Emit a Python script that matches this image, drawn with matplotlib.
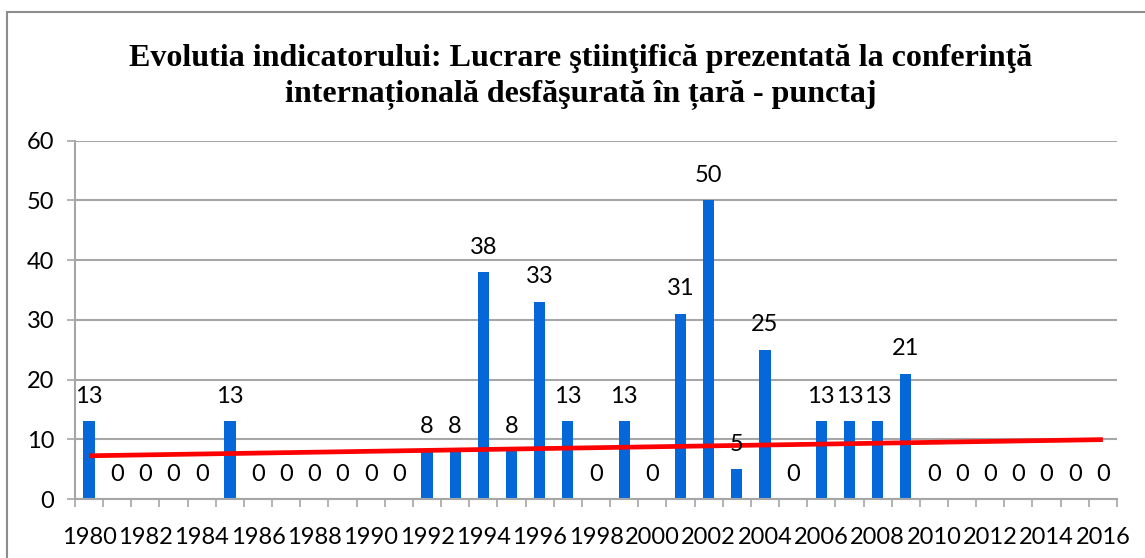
import numpy as np
import matplotlib.pyplot as plt
from matplotlib.patches import Rectangle

years = list(range(1980, 2017))
values = [13, 0, 0, 0, 0, 13, 0, 0, 0, 0, 0, 0, 8, 8, 38, 8, 33, 13, 0, 13,
          0, 31, 50, 5, 25, 0, 13, 13, 13, 21, 0, 0, 0, 0, 0, 0, 0]
title = ('Evolutia indicatorului: Lucrare ştiinţifică prezentată la conferinţă\n'
         'internațională desfăşurată în țară - punctaj')

bar_color = '#0667D9'
grid_color = '#A6A6A6'

fig = plt.figure(figsize=(11.45, 5.58), dpi=100)
ax = fig.add_axes([0.0655, 0.1057, 0.91, 0.6421])

x = np.arange(len(years))
ax.bar(x, values, width=0.4, color=bar_color, zorder=2)

# linear trend line
k, b = np.polyfit(x, values, 1)
ax.plot([x[0], x[-1]], [k * x[0] + b, k * x[-1] + b], color='#FF0000',
        lw=3.4, solid_capstyle='butt', zorder=3)

for xi, v in zip(x, values):
    ax.annotate(str(v), (xi, v), xytext=(0, 18), textcoords='offset points',
                ha='center', va='center', fontsize=17, family='Lato', zorder=4)

ax.set_xlim(-0.5, len(years) - 0.5)
ax.set_ylim(0, 60)
ax.set_yticks(range(0, 61, 10))
ax.yaxis.grid(True, color=grid_color, lw=1.5, zorder=0)
ax.set_axisbelow(True)

ax.set_xticks(x[::2])
ax.set_xticklabels([str(y) for y in years[::2]])
ax.set_xticks(np.arange(-0.5, len(years), 1), minor=True)
ax.tick_params(axis='x', which='major', length=0, pad=20, labelsize=17)
ax.tick_params(axis='x', which='minor', length=5.5, width=1.2, color=grid_color)
ax.tick_params(axis='y', length=6, width=1.2, color=grid_color, pad=9, labelsize=17)
for lab in ax.get_xticklabels() + ax.get_yticklabels():
    lab.set_family('Lato')

for s in ['top', 'right']:
    ax.spines[s].set_visible(False)
for s in ['left', 'bottom']:
    ax.spines[s].set_color(grid_color)
    ax.spines[s].set_linewidth(1.5)

fig.text(0.507, 0.862, title, ha='center', va='center', fontsize=23,
         family='Liberation Serif', weight='bold', linespacing=1.3)

fig.patches.append(Rectangle((7 / 1145, -0.1), 1.2, 1.1 - 12 / 558,
                             transform=fig.transFigure, fill=False,
                             edgecolor='#8C8C8C', lw=1.5))

fig.savefig('out.png', dpi=100)
